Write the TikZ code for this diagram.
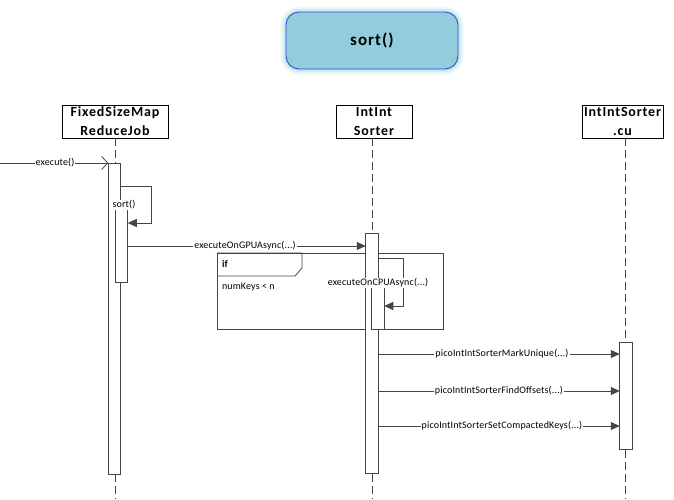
\documentclass[tikz,border=0pt]{standalone}
\usepackage{fontspec}
\setmainfont{Carlito}
\newfontfamily\lblfont[LetterSpace=1.5]{Carlito}
\newfontfamily\hdrfont[LetterSpace=6]{Carlito}
\usetikzlibrary{arrows.meta,calc}
\definecolor{linegray}{HTML}{454545}
\definecolor{titlefill}{HTML}{93CDDD}
\definecolor{titleedge}{HTML}{3050C8}
\definecolor{glowblue}{HTML}{B8E0EC}
\begin{document}
\begin{tikzpicture}[x=1pt,y=-1pt,
  every node/.style={inner sep=0pt, outer sep=0pt},
  header/.style={draw=black, line width=0.9pt, fill=white, minimum height=33pt,
    font=\hdrfont\fontsize{14}{19}\selectfont\bfseries, align=center},
  lifeline/.style={draw=linegray, line width=0.8pt, dash pattern=on 8pt off 4pt},
  actbar/.style={draw=linegray, line width=0.8pt, fill=white, minimum width=12.5pt},
  msg/.style={draw=linegray, line width=0.8pt, -{Triangle[length=9pt,width=8pt]}},
  msglabel/.style={fill=white, inner sep=1pt, font=\lblfont\fontsize{10}{11}\selectfont},
  fragbox/.style={draw=linegray, line width=0.8pt}
]
\useasboundingbox (0,0) rectangle (674,499);

% title with soft glow
\foreach \w/\o in {12/0.15, 9/0.25, 6/0.4, 3/0.6}
  \draw[glowblue, line width=\w pt, opacity=\o, rounded corners=13pt] (286,12) rectangle (458,69);
\node[draw=titleedge, line width=0.9pt, fill=titlefill, rounded corners=13pt,
  minimum width=172pt, minimum height=57pt, font=\hdrfont\fontsize{17}{19}\selectfont\bfseries]
  (title) at (372,40.5) {sort()};

% lifeline heads
\node[header, minimum width=106pt] (job) at (115,121.5) {FixedSizeMap\\ReduceJob};
\node[header, minimum width=76pt] (sorter) at (374,121.5) {IntInt\\Sorter};
\node[header, minimum width=81pt] (cu) at (622.5,121.5) {IntIntSorter\\.cu};

% lifelines
\coordinate (jobend) at (115,499);
\coordinate (sorterend) at (372,499);
\coordinate (cuend) at (625,499);
\draw[lifeline] (job.south -| jobend) -- (jobend);
\draw[lifeline] (sorter.south -| sorterend) -- (sorterend);
\draw[lifeline] (cu.south -| cuend) -- (cuend);

% combined fragment
\node[fragbox, minimum width=226pt, minimum height=76pt] (frag) at (330,291) {};
\draw[fragbox] (frag.north west) -- ++(85,0) coordinate (tabr) -- ++(0,15) -- ++(-7,8) -- ($(frag.north west)+(0,23)$);
\node[anchor=west, font=\lblfont\fontsize{10}{11}\selectfont\bfseries] (iflbl) at ($(frag.north west)+(5,11)$) {if};
\node[anchor=west, font=\lblfont\fontsize{10}{11}\selectfont] (guard) at ($(frag.north west)+(5,34)$) {numKeys < n};

% activation bars
\node[actbar, minimum height=311pt] (b1) at (114.5,318.5) {};
\node[actbar, minimum height=77pt] (b1n) at (121.5,243.5) {};
\node[actbar, minimum height=240pt] (b2) at (372,353) {};
\node[actbar, minimum height=51pt] (b2n) at (378,303.5) {};
\node[actbar, minimum height=107pt] (b3) at (626,395.5) {};

% found message
\coordinate (caller) at (0,163);
\draw[draw=linegray, line width=0.8pt, -{Straight Barb[length=6pt,width=13pt]}] (caller) -- (b1.north west);
\node[msglabel] (lexec) at (55,163) {execute()};

% self call sort()
\draw[msg] (b1.east |- 0,186) -- (151,186) -- (151,223) -- (b1n.east |- 0,223);
\node[msglabel] (lsort) at (124,205) {sort()};

% executeOnGPUAsync
\draw[msg] (b1n.east |- 0,246) -- (b2.west |- 0,246);
\node[msglabel] (lgpu) at (245,246) {executeOnGPUAsync(...)};

% self call executeOnCPUAsync
\draw[msg] (b2.east |- 0,258) -- (403,258) -- (403,306) -- (b2n.east |- 0,306);
\node[msglabel] (lcpu) at (378,283) {executeOnCPUAsync(...)};

% kernel calls
\draw[msg] (b2.east |- 0,354) -- (b3.west |- 0,354);
\node[msglabel] (lmark) at (502,354) {picoIntIntSorterMarkUnique(...)};
\draw[msg] (b2.east |- 0,391) -- (b3.west |- 0,391);
\node[msglabel] (loff) at (499,391) {picoIntIntSorterFindOffsets(...)};
\draw[msg] (b2.east |- 0,426) -- (b3.west |- 0,426);
\node[msglabel] (lkeys) at (502,426) {picoIntIntSorterSetCompactedKeys(...)};
\end{tikzpicture}
\end{document}
